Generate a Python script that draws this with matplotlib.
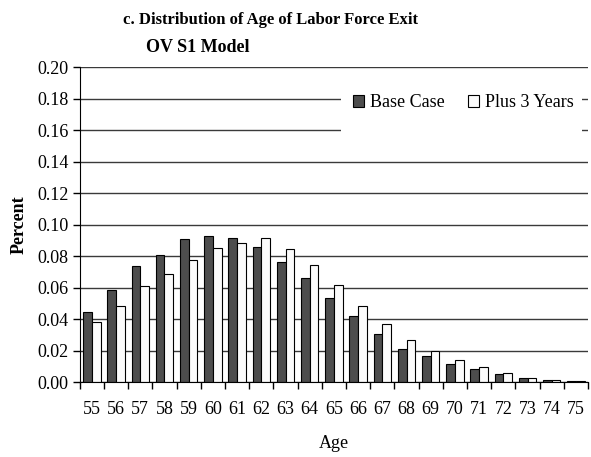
import matplotlib
matplotlib.use("Agg")
import matplotlib.pyplot as plt
from matplotlib.patches import Rectangle, Patch
import numpy as np

ages = ["55", "56", "57", "58", "59", "60", "61", "62", "63", "64", "65",
        "66", "67", "68", "69", "70", "71", "72", "73", "74", "75"]
base_case = [0.0446, 0.0584, 0.0734, 0.0806, 0.0910, 0.0927, 0.0912, 0.0857,
             0.0763, 0.0662, 0.0533, 0.0417, 0.0307, 0.0213, 0.0163, 0.0117,
             0.0081, 0.0051, 0.0028, 0.0015, 0.0008]
plus_3_years = [0.0381, 0.0483, 0.0611, 0.0686, 0.0778, 0.0849, 0.0884, 0.0912,
                0.0843, 0.0743, 0.0618, 0.0481, 0.0366, 0.0267, 0.0199, 0.0138,
                0.0095, 0.0060, 0.0028, 0.0015, 0.0008]
yticks = [0.00, 0.02, 0.04, 0.06, 0.08, 0.10, 0.12, 0.14, 0.16, 0.18, 0.20]

plt.rcParams['font.family'] = ['Liberation Serif', 'DejaVu Serif']

fig = plt.figure(figsize=(5.91, 4.57), dpi=100)
ax = fig.add_axes([0.135, 0.164, 0.86, 0.689])

x = np.arange(len(ages))
w = 0.36
ax.bar(x - w / 2, base_case, width=w, color='#4d4d4d', edgecolor='black',
       linewidth=0.8, zorder=3, label='Base Case')
ax.bar(x + w / 2, plus_3_years, width=w, color='#fbfbfb', edgecolor='black',
       linewidth=0.8, zorder=3, label='Plus 3 Years')

ax.set_xlim(-0.5, len(ages) - 0.5)
ax.set_ylim(0, 0.20)
ax.set_yticks(yticks)
ax.set_yticklabels([f"{v:.2f}" for v in yticks], fontsize=13)
ax.yaxis.grid(True, color='#3a3a3a', linewidth=1.0, zorder=0)
ax.set_axisbelow(True)

ax.set_xticks(x)
ax.set_xticklabels(ages, fontsize=13)
ax.tick_params(axis='x', length=0, pad=14)
ax.set_xticks(np.arange(len(ages) + 1) - 0.5, minor=True)
ax.tick_params(axis='x', which='minor', length=5, width=1, color='black', direction='out')
ax.tick_params(axis='y', length=5, width=1, color='black', direction='out', pad=3)

for s in ['top', 'right']:
    ax.spines[s].set_visible(False)
ax.spines['left'].set_color('black')
ax.spines['bottom'].set_color('black')
ax.spines['left'].set_zorder(4)
ax.spines['bottom'].set_zorder(4)

# white legend area that interrupts gridlines
ax.add_patch(Rectangle((0.514, 0.79), 0.474, 0.19, transform=ax.transAxes,
                       facecolor='white', edgecolor='none', zorder=2))
handles = [Patch(facecolor='#4d4d4d', edgecolor='black', linewidth=0.8),
           Patch(facecolor='#fbfbfb', edgecolor='black', linewidth=0.8)]
leg = ax.legend(handles, ['Base Case', 'Plus 3 Years'], ncol=2, frameon=False,
                loc='center', bbox_to_anchor=(0.755, 0.887), fontsize=13,
                handlelength=0.6, handleheight=0.6, handletextpad=0.35,
                columnspacing=1.3)
leg.set_zorder(5)

ax.set_ylabel('Percent', fontsize=13, fontweight='bold', labelpad=7)
ax.set_xlabel('Age', fontsize=13, labelpad=12)

fig.text(0.458, 0.956, 'c. Distribution of Age of Labor Force Exit', fontsize=12,
         fontweight='bold', ha='center', va='center')
fig.text(0.334, 0.895, 'OV S1 Model', fontsize=13, fontweight='bold',
         ha='center', va='center')

fig.savefig('out.png', dpi=100)
